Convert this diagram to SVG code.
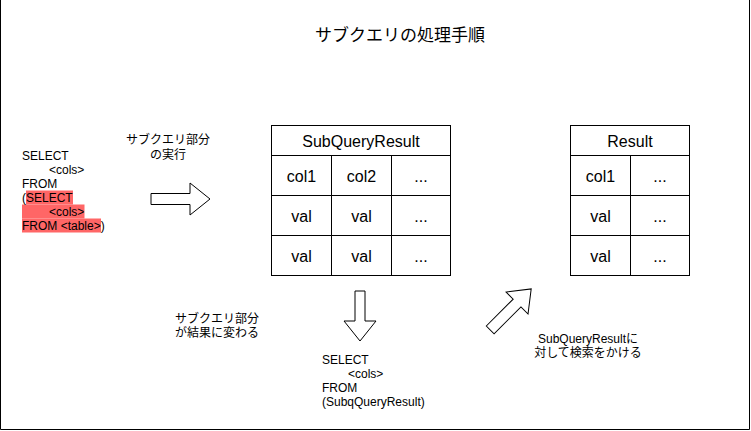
<svg xmlns="http://www.w3.org/2000/svg" width="751" height="431" viewBox="0 0 751 431">
<style>
text{font-family:"Liberation Sans","Noto Sans CJK JP",sans-serif;fill:#000}
.s12{font-size:12px}
.s16{font-size:16px}
.mid{text-anchor:middle}
.cell{fill:#fff;stroke:#000;stroke-width:1}
.arrow{fill:#fff;stroke:#000;stroke-width:1;stroke-linejoin:miter}
.hl{fill:#ff6666}
</style>
<rect x="0" y="0" width="751" height="431" fill="#fff"/>
<path d="M0.5,0 V429.5 H749.5 V0" fill="none" stroke="#000" stroke-width="1"/>

<g id="title">
<text class="mid" x="400" y="41" style="font-size:17px">サブクエリの処理手順</text>
</g>

<g id="query1">
<rect class="hl" x="26" y="190.5" width="47" height="14"/>
<rect class="hl" x="22" y="204.5" width="62.5" height="14"/>
<rect class="hl" x="22" y="218.5" width="79" height="14"/>
<text class="s12" x="22" y="159.5">SELECT</text>
<text class="s12" x="49" y="173.5">&lt;cols&gt;</text>
<text class="s12" x="22" y="187.5">FROM</text>
<text class="s12" x="22" y="201.5">(SELECT</text>
<text class="s12" x="49" y="215.5">&lt;cols&gt;</text>
<text class="s12" x="22" y="229.5">FROM &lt;table&gt;)</text>
</g>

<g id="label-exec">
<text class="s12 mid" x="168" y="144">サブクエリ部分</text>
<text class="s12 mid" x="168" y="158.5">の実行</text>
</g>

<g id="subquery-result">
<rect class="cell" x="271.5" y="125.5" width="179" height="150"/>
<path d="M271.5,155.5 H450.5 M271.5,195.5 H450.5 M271.5,235.5 H450.5 M331.5,155.5 V275.5 M391.5,155.5 V275.5" stroke="#000" fill="none"/>
<text class="s16 mid" x="361" y="146.5">SubQueryResult</text>
<text class="s16 mid" x="301.5" y="181.5">col1</text>
<text class="s16 mid" x="361.5" y="181.5">col2</text>
<text class="s16 mid" x="421" y="181.5">...</text>
<text class="s16 mid" x="301.5" y="221.5">val</text>
<text class="s16 mid" x="361.5" y="221.5">val</text>
<text class="s16 mid" x="421" y="221.5">...</text>
<text class="s16 mid" x="301.5" y="261.5">val</text>
<text class="s16 mid" x="361.5" y="261.5">val</text>
<text class="s16 mid" x="421" y="261.5">...</text>
</g>

<g id="result">
<rect class="cell" x="570.5" y="125.5" width="119" height="150"/>
<path d="M570.5,155.5 H689.5 M570.5,195.5 H689.5 M570.5,235.5 H689.5 M630.5,155.5 V275.5" stroke="#000" fill="none"/>
<text class="s16 mid" x="630" y="146.5">Result</text>
<text class="s16 mid" x="600.5" y="181.5">col1</text>
<text class="s16 mid" x="660" y="181.5">...</text>
<text class="s16 mid" x="600.5" y="221.5">val</text>
<text class="s16 mid" x="660" y="221.5">...</text>
<text class="s16 mid" x="600.5" y="261.5">val</text>
<text class="s16 mid" x="660" y="261.5">...</text>
</g>

<g id="label-change">
<text class="s12" x="175" y="322.5">サブクエリ部分</text>
<text class="s12" x="175" y="336.5">が結果に変わる</text>
</g>

<g id="query2">
<text class="s12" x="322" y="363.5">SELECT</text>
<text class="s12" x="348" y="377.5">&lt;cols&gt;</text>
<text class="s12" x="322" y="391.5">FROM</text>
<text class="s12" x="322" y="405.5">(SubqQueryResult)</text>
</g>

<g id="label-search">
<text class="s12 mid" x="588" y="342.5">SubQueryResultに</text>
<text class="s12 mid" x="588" y="356.5">対して検索をかける</text>
</g>

<g id="connectors">
<path class="arrow" d="M151,193.5 H190 V183 L210,199 L190,215 V204.5 H151 Z"/>
<path class="arrow" d="M355,291 H365 V321 H376 L360,341 L344,321 H355 Z"/>
<path class="arrow" transform="translate(510.7,309.4) rotate(-45)" d="M-29,-5.5 H9 V-15.5 L29,0 L9,15.5 V5.5 H-29 Z"/>
</g>
</svg>
